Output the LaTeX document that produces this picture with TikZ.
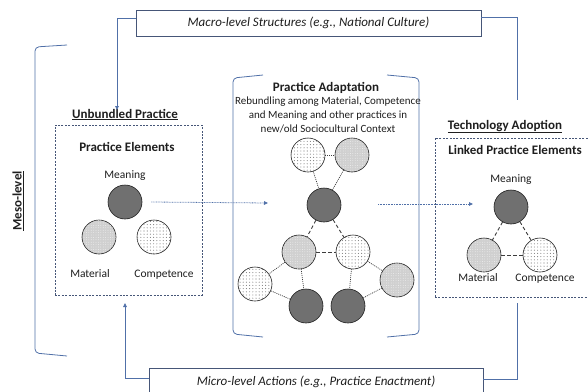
\documentclass[tikz,border=0pt]{standalone}
\usepackage{fontspec}
\setmainfont{Carlito}
\usetikzlibrary{arrows.meta,patterns.meta}

\definecolor{linkblue}{RGB}{80,112,168}
\definecolor{frameblue}{RGB}{70,86,120}
\definecolor{ink}{RGB}{30,30,30}
\definecolor{tie}{RGB}{60,60,60}
\definecolor{darkfill}{RGB}{112,112,112}
\definecolor{lightfill}{RGB}{208,208,208}

\tikzset{
  levelbox/.style={draw=frameblue, line width=0.7pt, fill=white, inner sep=0pt,
    font=\itshape\fontsize{13}{15}\selectfont, text=ink},
  levelline/.style={draw=linkblue, line width=0.8pt},
  levelarrow/.style={levelline, -{Triangle[length=4pt,width=3.6pt]}},
  heading/.style={font=\bfseries\fontsize{13}{15}\selectfont, text=ink, inner sep=0pt, anchor=base},
  label/.style={font=\fontsize{11.5}{13}\selectfont, text=ink, inner sep=0pt, anchor=base},
  elbox/.style={draw=frameblue, line width=0.6pt, dash pattern=on 2pt off 1.4pt, inner sep=0pt},
  bracket/.style={draw=linkblue, line width=0.8pt, rounded corners=4pt},
  element/.style={circle, draw=ink, line width=0.6pt, minimum size=34pt, inner sep=0pt},
  meaningel/.style={element, fill=darkfill},
  materialel/.style={element, fill=lightfill,
    postaction={pattern={Dots[radius=0.35pt,distance=2.4pt]}, pattern color=white}},
  competenceel/.style={element, fill=white,
    postaction={pattern={Dots[radius=0.55pt,distance=3.2pt]}, pattern color=black!50}},
  flow/.style={draw=linkblue, line width=0.8pt, dash pattern=on 0.8pt off 0.8pt,
    -{Triangle[length=4pt,width=3.6pt]}},
  loosetie/.style={draw=tie, line width=0.7pt, dash pattern=on 1pt off 1pt},
  firmtie/.style={draw=tie, line width=0.9pt, dash pattern=on 3.5pt off 2.5pt},
}

\begin{document}
\begin{tikzpicture}[x=1pt,y=-1pt]
\useasboundingbox (0,0) rectangle (588,391);
\clip (0,0) rectangle (588,391);

% structural levels
\node[levelbox, minimum width=345pt, minimum height=26pt] (macro) at (308.5,23) {Macro-level Structures (e.g., National Culture)};
\node[levelbox, minimum width=334pt, minimum height=28pt] (micro) at (316,382) {Micro-level Actions (e.g., Practice Enactment)};

% meso-level bracket
\draw[bracket] (67,45) -- (35,47) -- (35,353) -- (67,356);
\node[heading, rotate=90, anchor=center] (meso) at (18,201) {\underline{Meso-level}};

% unbundled practice
\node[heading] (unbundled) at (125,118) {\underline{Unbundled Practice}};
\node[elbox, minimum width=147pt, minimum height=170pt] (ubox) at (128.5,210) {};
\node[heading] (elements) at (127,151) {Practice Elements};
\node[label] (lmeanlab) at (125,178) {Meaning};
\node[meaningel] (lmean) at (125,202) {};
\node[materialel] (lmat) at (99,237) {};
\node[competenceel] (lcomp) at (154,237) {};
\node[label] (lmatlab) at (90,277) {Material};
\node[label] (lcomplab) at (164,277) {Competence};

% practice adaptation
\draw[bracket] (263,75) -- (233,78) -- (233,334) -- (263,337);
\draw[bracket] (387,75) -- (419,78) -- (419,334) -- (387,337);
\node[heading] (adapt) at (326,91) {Practice Adaptation};
\node[font=\fontsize{11}{14}\selectfont, text=ink, align=center, inner sep=0pt] (rebundle) at (328,115)
  {Rebundling among Material, Competence\\and Meaning and other practices in\\new/old Sociocultural Context};

\node[competenceel] (c1) at (308,155) {};
\node[materialel]   (c2) at (352,155) {};
\node[meaningel]    (c3) at (324,205) {};
\node[materialel]   (c4) at (299,252) {};
\node[competenceel] (c5) at (353,252) {};
\node[competenceel] (c6) at (255,284) {};
\node[meaningel]    (c7) at (306,306) {};
\node[meaningel]    (c8) at (348,306) {};
\node[materialel]   (c9) at (397,280) {};

\draw[loosetie] (c1) -- (c2);
\draw[loosetie] (c1) -- (c3);
\draw[loosetie] (c2) -- (c3);
\draw[firmtie]  (c3) -- (c4);
\draw[firmtie]  (c3) -- (c5);
\draw[firmtie]  (c4) -- (c5);
\draw[loosetie] (c4) -- (c6);
\draw[loosetie] (c4) -- (c7);
\draw[loosetie] (c5) -- (c8);
\draw[loosetie] (c5) -- (c9);
\draw[loosetie] (c6) -- (c7);
\draw[loosetie] (c8) -- (c9);

% technology adoption
\node[heading] (adopt) at (505,129) {\underline{Technology Adoption}};
\node[elbox, minimum width=160pt, minimum height=159pt] (tbox) at (515,217.5) {};
\node[heading] (linked) at (515,154) {Linked Practice Elements};
\node[label] (rmeanlab) at (511,182) {Meaning};
\node[meaningel] (rmean) at (511,207) {};
\node[materialel] (rmat) at (484,255) {};
\node[competenceel] (rcomp) at (540,255) {};
\node[label] (rmatlab) at (478,281) {Material};
\node[label] (rcomplab) at (545,281) {Competence};
\draw[firmtie] (rmean) -- (rmat);
\draw[firmtie] (rmean) -- (rcomp);
\draw[firmtie] (rmat) -- (rcomp);

% flows between stages
\coordinate (adaptin) at (268,203);
\coordinate (adaptout) at (378,204);
\coordinate (adoptin) at (473,204);
\draw[flow] (lmean.east) ++(9,0) -- (adaptin);
\draw[flow] (adaptout) -- (adoptin);

% links between levels
\coordinate (unbtop) at (117,110);
\coordinate (unbbottom) at (125,303);
\coordinate (adopttop) at (517,100);
\coordinate (adoptbottom) at (517,303);
\draw[levelarrow] ([yshift=5pt]macro.west) -| (unbtop);
\draw[levelline] ([yshift=6pt]macro.east) -| (adopttop);
\draw[levelarrow] ([yshift=4pt]micro.west) -| (unbbottom);
\draw[levelline] ([yshift=3pt]micro.east) -| (adoptbottom);
\end{tikzpicture}
\end{document}
